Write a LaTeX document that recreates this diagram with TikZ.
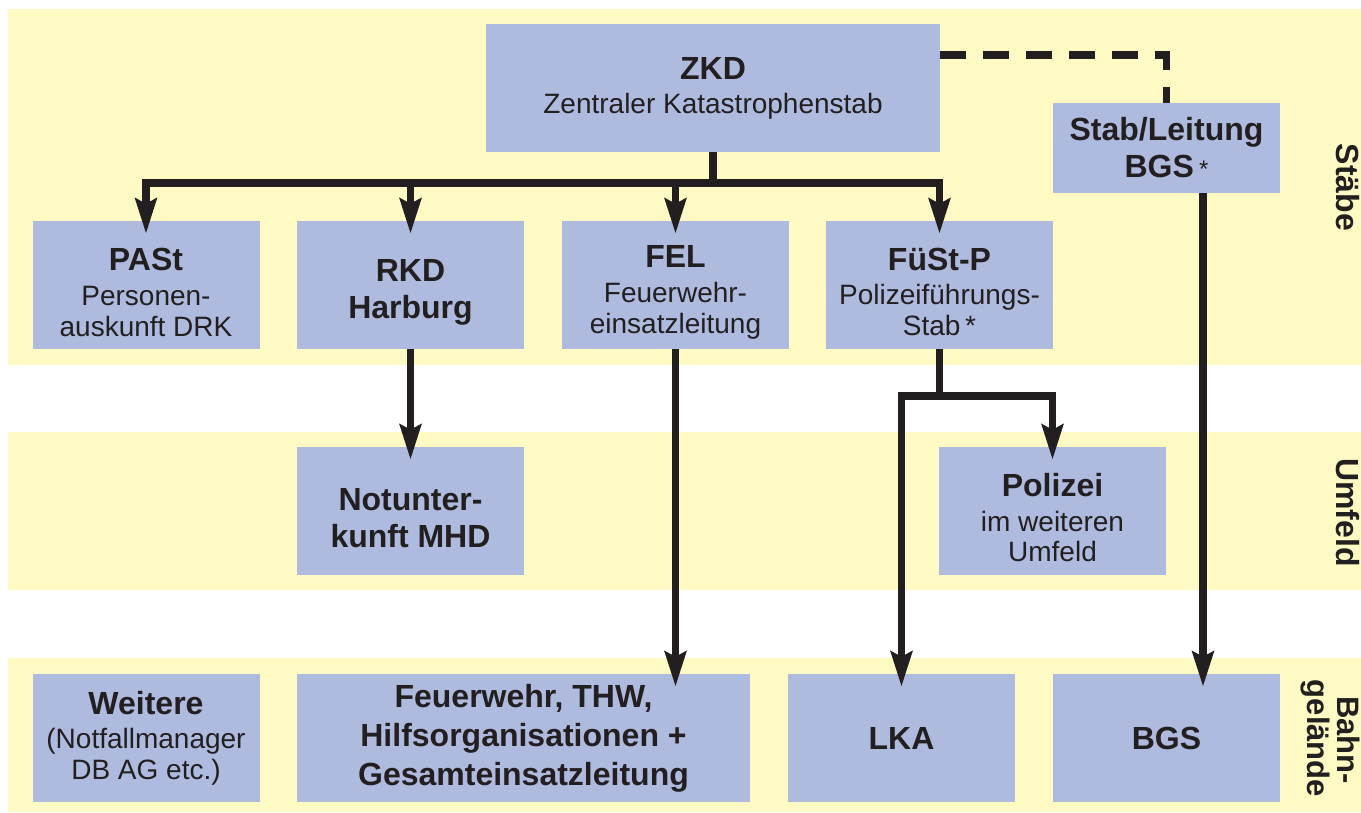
\documentclass[tikz,border=0pt]{standalone}
\usepackage{fontspec}
\setmainfont{Liberation Sans}
\usetikzlibrary{arrows.meta}
\definecolor{bandc}{HTML}{FFF9C4}
\definecolor{boxc}{HTML}{AEBBDF}
\definecolor{ink}{HTML}{231F20}
\newcommand{\mystrut}{\rule{0pt}{37pt}}
\begin{document}
\begin{tikzpicture}[x=1pt,y=-1pt,
  box/.style={fill=boxc, draw=none, inner sep=0pt, align=center, text=ink,
    font=\fontsize{28}{31}\selectfont},
  boldbox/.style={box, font=\fontsize{32}{37}\selectfont\bfseries},
  sbox/.style={minimum width=227pt, minimum height=128pt},
  conn/.style={draw=ink, line width=7.5pt, line join=miter},
  arr/.style={conn, -{Stealth[length=35pt,width=21pt,inset=5pt]}, shorten >=-13pt},
  dashline/.style={conn, dash pattern=on 26pt off 17pt},
  side/.style={text=ink, font=\fontsize{32}{32}\selectfont\bfseries, rotate=-90,
    anchor=base, inner sep=0pt}
]
\useasboundingbox (0,0) rectangle (1361,812);
% bands
\fill[bandc] (8,9) rectangle (1361,365);
\fill[bandc] (8,432) rectangle (1361,590);
\fill[bandc] (8,658) rectangle (1361,812);

% side labels
\node[side] (lstaebe) at (1336,187.5) {Stäbe};
\node[side] (lumfeld) at (1336,512.5) {Umfeld};
\node[side, font=\fontsize{31}{31}\selectfont\bfseries] (lbahn) at (1337,740) {Bahn-};
\node[side, font=\fontsize{31}{31}\selectfont\bfseries] (lgel) at (1307,738.5) {gelände};

% boxes
\node[box, minimum width=454pt, minimum height=128pt] (ZKD) at (713,88)
  {{\bfseries\fontsize{32}{35}\selectfont ZKD}\\[3pt]Zentraler Katastrophenstab};
\node[boldbox, minimum width=227pt, minimum height=90pt] (Stab) at (1166.5,148)
  {Stab/Leitung\\BGS\,{\mdseries\fontsize{24}{24}\selectfont *}};
\node[box, sbox] (PASt) at (146,285)
  {\mystrut{\bfseries\fontsize{32}{35}\selectfont PASt}\\[4pt]Personen-\\auskunft DRK};
\node[boldbox, sbox] (RKD) at (410.5,285) {\mystrut RKD\\Harburg};
\node[box, sbox] (FEL) at (675.5,285)
  {\mystrut{\bfseries\fontsize{32}{35}\selectfont FEL}\\[4pt]Feuerwehr-\\einsatzleitung};
\node[box, sbox] (FuSt) at (939.5,285)
  {\mystrut{\bfseries\fontsize{32}{35}\selectfont FüSt-P}\\[3pt]Polizeiführungs-\\Stab\,*};
\node[boldbox, sbox] (Not) at (410.5,511) {\mystrut Notunter-\\kunft MHD};
\node[box, sbox] (Pol) at (1052.5,511)
  {\mystrut{\bfseries\fontsize{32}{35}\selectfont Polizei}\\[4pt]im weiteren\\[-1pt]Umfeld};
\node[box, sbox] (Weit) at (146,738)
  {{\bfseries\fontsize{32}{35}\selectfont Weitere}\\[3pt](Notfallmanager\\DB AG etc.)};
\node[boldbox, minimum width=453pt, minimum height=128pt, font=\fontsize{32}{39}\selectfont\bfseries] (Feuer) at (523.5,738)
  {Feuerwehr, THW,\\Hilfsorganisationen +\\Gesamteinsatzleitung};
\node[boldbox, sbox] (LKA) at (901.5,738) {LKA};
\node[boldbox, sbox] (BGS) at (1166.5,738) {BGS};

% helper coordinates
\coordinate (hbar) at (0,183);
\coordinate (fbar) at (0,396);
\coordinate (dashy) at (0,55);
\coordinate (bgsx) at (1203,0);

% connectors
\draw[conn] (ZKD.south) -- (ZKD.south |- hbar);
\draw[arr] (ZKD.south |- hbar) -| (PASt.north);
\draw[arr] (ZKD.south |- hbar) -| (FuSt.north);
\draw[arr] (RKD.north |- hbar) -- (RKD.north);
\draw[arr] (FEL.north |- hbar) -- (FEL.north);
\draw[dashline] (ZKD.east |- dashy) -| (Stab.north);
\draw[arr] (RKD.south) -- (Not.north);
\draw[arr] (FEL.south) -- (FEL.south |- Feuer.north);
\draw[conn] (FuSt.south) -- (FuSt.south |- fbar);
\draw[arr] (FuSt.south |- fbar) -| (LKA.north);
\draw[arr] (FuSt.south |- fbar) -| (Pol.north);
\draw[arr] (Stab.south -| bgsx) -- (BGS.north -| bgsx);
\end{tikzpicture}
\end{document}
